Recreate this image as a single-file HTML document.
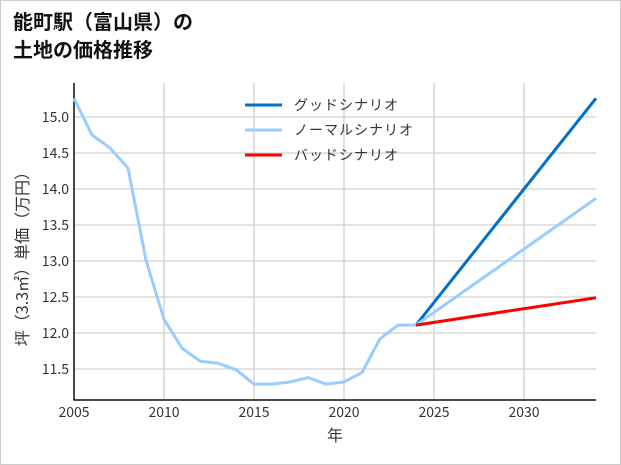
<!DOCTYPE html>
<html><head><meta charset="utf-8"><style>
body{margin:0;background:#fff;font-family:"Noto Sans CJK JP",sans-serif;}
#wrap{position:relative;width:621px;height:465px;box-sizing:border-box;border:1px solid #ccc;}
h1{position:absolute;left:12px;top:6px;margin:0;font-size:20px;line-height:28px;font-weight:bold;color:#111;}
svg text{font-family:"Noto Sans CJK JP",sans-serif;}
</style></head><body>
<div id="wrap">
<h1>能町駅（富山県）の<br>土地の価格推移</h1>
<svg id="c" width="621" height="465" style="position:absolute;left:-1px;top:-1px"></svg>
</div>
<script>
const years=[2005,2006,2007,2008,2009,2010,2011,2012,2013,2014,2015,2016,2017,2018,2019,2020,2021,2022,2023,2024];
const hist=[15.26,14.75,14.57,14.29,13.01,12.19,11.79,11.61,11.58,11.49,11.29,11.29,11.32,11.38,11.29,11.32,11.45,11.92,12.11,12.11];
const projYears=[2024,2034];
const good=[12.11,15.26];
const normal=[12.11,13.87];
const bad=[12.11,12.49];
const xTicks=[2005,2010,2015,2020,2025,2030];
const yTicks=[11.5,12.0,12.5,13.0,13.5,14.0,14.5,15.0];
const X=y=>74+(y-2005)*18, Y=v=>117+(15-v)*72;
const L=74,R=596,T=83,B=400;
const svg=document.getElementById('c');const NS='http://www.w3.org/2000/svg';
function mk(t,a,p){const e=document.createElementNS(NS,t);for(const k in a)e.setAttribute(k,a[k]);(p||svg).appendChild(e);return e;}
xTicks.forEach(t=>{const l=mk('line',{x1:X(t),x2:X(t),y1:T,y2:B,stroke:'#d0d0d0','stroke-width':1.3});

const tx=mk('text',{x:X(t),y:B+17,'text-anchor':'middle','font-size':14,fill:'#333'});tx.textContent=t;
});
yTicks.forEach(t=>{const l=mk('line',{x1:L,x2:R,y1:Y(t),y2:Y(t),stroke:'#d0d0d0','stroke-width':1.3});

const tx=mk('text',{x:L-5,y:Y(t)+5,'text-anchor':'end','font-size':14,fill:'#333'});tx.textContent=t.toFixed(1);
});
const ax=mk('path',{d:`M${L} ${T}V${B}H${R}`,stroke:'#111','stroke-width':1.5,fill:'none'});

function line(xs,vs,c,name){const p=mk('polyline',{points:xs.map((x,i)=>X(x)+','+Y(vs[i])).join(' '),fill:'none',stroke:c,'stroke-width':3,'stroke-linejoin':'round'});
}
line(projYears,good,'#0070c8','good-scenario-line');
line(projYears,normal,'#99ccff','normal-scenario-line');
line(projYears,bad,'#ff0000','bad-scenario-line');
line(years,hist,'#99ccff','historical-line');
const leg=[['グッドシナリオ','#0070c8'],['ノーマルシナリオ','#99ccff'],['バッドシナリオ','#ff0000']];
leg.forEach((e,i)=>{const y=105+i*25;
const l=mk('line',{x1:245,x2:282,y1:y,y2:y,stroke:e[1],'stroke-width':3});

const t=mk('text',{x:294,y:y+5,'font-size':14,fill:'#333','letter-spacing':'1px'});t.textContent=e[0];
});
const xt=mk('text',{x:335,y:441,'text-anchor':'middle','font-size':16,fill:'#333'});xt.textContent='年';

const yt=mk('text',{x:0,y:0,'text-anchor':'middle','font-size':16,fill:'#333',transform:'translate(28,255) rotate(-90)'});yt.textContent='坪（3.3㎡）単価（万円）';

</script>
</body></html>
